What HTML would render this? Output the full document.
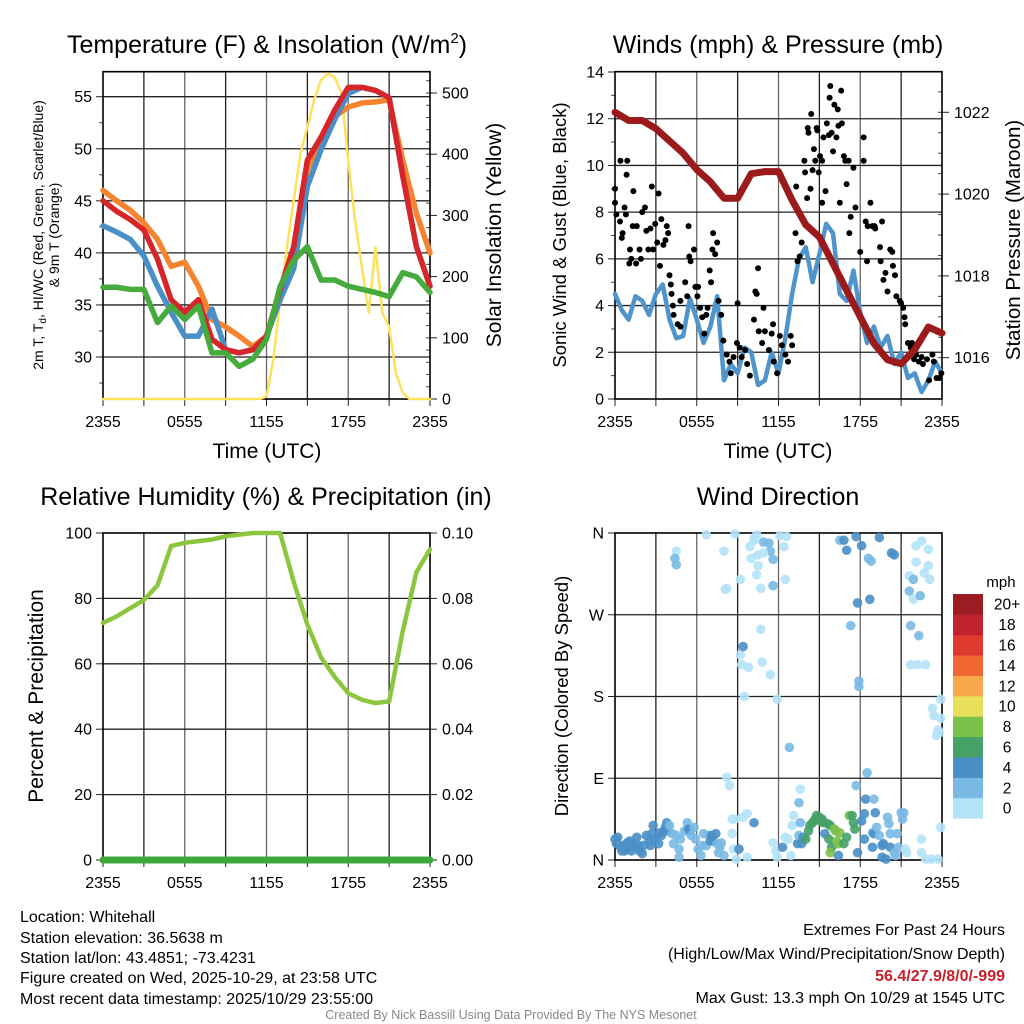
<!DOCTYPE html>
<html><head><meta charset="utf-8"><title>Whitehall Meteogram</title>
<style>
html,body{margin:0;padding:0;background:#fff;}
svg{display:block;font-family:"Liberation Sans",Arial,sans-serif;}
</style></head>
<body>
<svg id="fig" width="1024" height="1024" viewBox="0 0 1024 1024">
<rect width="1024" height="1024" fill="#fff"/>
<g id="layer"></g>
<text x="267" y="53" font-size="25" text-anchor="middle">Temperature (F) &amp; Insolation (W/m<tspan font-size="15" dy="-10">2</tspan><tspan dy="10">)</tspan></text>
<text x="778" y="53" font-size="25" text-anchor="middle">Winds (mph) &amp; Pressure (mb)</text>
<text x="266" y="505" font-size="25" text-anchor="middle">Relative Humidity (%) &amp; Precipitation (in)</text>
<text x="778" y="505" font-size="25" text-anchor="middle">Wind Direction</text>

<text x="267" y="458" font-size="21" text-anchor="middle">Time (UTC)</text>
<text x="778" y="458" font-size="21" text-anchor="middle">Time (UTC)</text>

<text transform="translate(43,235) rotate(-90)" font-size="14" text-anchor="middle">2m T, T<tspan font-size="10" dy="3">d</tspan><tspan dy="-3">, HI/WC (Red, Green, Scarlet/Blue)</tspan></text>
<text transform="translate(59,235) rotate(-90)" font-size="14" text-anchor="middle">&amp; 9m T (Orange)</text>
<text transform="translate(501,235) rotate(-90)" font-size="21" text-anchor="middle">Solar Insolation (Yellow)</text>
<text transform="translate(566,235) rotate(-90)" font-size="18.5" text-anchor="middle">Sonic Wind &amp; Gust (Blue, Black)</text>
<text transform="translate(1020,240) rotate(-90)" font-size="20.5" text-anchor="middle">Station Pressure (Maroon)</text>
<text transform="translate(43,696) rotate(-90)" font-size="21" text-anchor="middle">Percent &amp; Precipitation</text>
<text transform="translate(568,696) rotate(-90)" font-size="18.5" text-anchor="middle">Direction (Colored By Speed)</text>

<g font-size="16">
<text x="20" y="922">Location: Whitehall</text>
<text x="20" y="943">Station elevation: 36.5638 m</text>
<text x="20" y="963">Station lat/lon: 43.4851; -73.4231</text>
<text x="20" y="983">Figure created on Wed, 2025-10-29, at 23:58 UTC</text>
<text x="20" y="1004">Most recent data timestamp: 2025/10/29 23:55:00</text>
</g>
<g font-size="16" text-anchor="end">
<text x="1005" y="935">Extremes For Past 24 Hours</text>
<text x="1005" y="959">(High/Low/Max Wind/Precipitation/Snow Depth)</text>
<text x="1005" y="981" fill="#c8202a" font-weight="bold">56.4/27.9/8/0/-999</text>
<text x="1005" y="1003">Max Gust: 13.3 mph On 10/29 at 1545 UTC</text>
</g>
<text x="511" y="1019" font-size="12.5" fill="#888" text-anchor="middle">Created By Nick Bassill Using Data Provided By The NYS Mesonet</text>
</svg>
<script>
// ---------- data ----------
const xTickLabels = ["2355","0555","1155","1755","2355"];
const tempRed    = [45.0,44.0,43.2,42.2,39.4,35.5,34.3,35.5,31.7,30.7,30.4,30.7,32.0,36.5,40.6,48.9,51.1,53.7,55.9,55.9,55.6,54.9,47.4,40.6,36.8];
const tempBlue   = [42.6,42.0,41.3,39.7,36.8,34.3,32.0,32.0,34.6,30.7,30.4,30.7,32.0,35.5,38.5,46.4,49.9,52.8,55.3,55.9,55.6,54.9,47.4,40.6,36.8];
const tempOrange = [46.0,45.0,44.1,42.9,41.3,38.7,39.1,36.8,33.6,32.9,32.0,31.0,32.0,35.5,40.6,48.0,50.5,53.1,54.0,54.4,54.5,54.7,48.9,43.8,40.0];
const dewGreen   = [36.7,36.7,36.5,36.5,33.3,34.9,33.6,34.9,30.4,30.4,29.1,29.8,31.7,36.8,39.3,40.6,37.4,37.4,36.8,36.5,36.2,35.8,38.1,37.7,36.2];
const solarHalfHourly = [0,0,0,0,0,0,0,0,0,0,0,0,0,0,0,0,0,0,0,0,0,0,0,0,4,64,162,248,325,402,444,489,521,532,526,500,390,292,216,141,248,141,118,42,10,0,0,0,0];
const tempTicks = [30,35,40,45,50,55];
const solarTicks = [0,100,200,300,400,500];

const windHalfHourly = [4.5,3.8,3.4,4.4,4.2,3.6,4.5,4.9,3.4,2.6,2.7,4.3,3.4,2.4,3.1,4.4,0.8,1.5,1.1,2.2,2.0,0.6,0.8,2.0,1.1,2.6,4.5,6.0,6.5,5.0,6.2,7.5,7.1,4.5,4.2,5.5,3.7,2.4,3.1,2.2,2.7,1.5,2.0,0.9,1.1,0.3,0.8,1.6,1.1];
const pressureHourly = [1022.0,1021.8,1021.8,1021.6,1021.3,1021.0,1020.6,1020.3,1019.9,1019.9,1020.5,1020.55,1020.55,1019.85,1019.25,1018.95,1018.3,1017.65,1017.0,1016.35,1015.95,1015.85,1016.2,1016.75,1016.6];
const gustTimes  = [-0.1,0,0.4,0.9,0.85,0.1,0.37,0.56,0.5,0.7,0.8,1.1,1.2,1.05,1.35,1.3,1.6,1.55,1.8,1.9,2.0,2.2,2.3,2.6,2.45,2.7,2.8,2.95,3.1,3.2,3.3,3.4,3.55,3.7,3.8,3.9,4.0,4.1,4.15,4.25,4.3,4.6,4.8,4.8,5.15,5.3,5.4,5.45,5.55,5.8,5.9,6.05,6.1,6.25,6.4,6.55,6.7,6.8,6.95,7.05,7.15,7.2,7.35,7.5,7.6,7.8,7.95,8.2,8.4,8.5,8.7,8.95,9.0,9.15,9.3,9.55,9.7,9.9,10.2,10.3,10.4,10.5,10.55,10.8,10.9,11.0,11.3,11.5,11.6,11.65,11.9,12.1,12.25,12.5,12.7,12.9,13.0,13.25,13.3,13.4,13.55,13.7,13.9,13.95,14.1,14.15,14.2,14.35,14.4,14.5,14.6,14.7,14.8,14.85,14.95,15.05,15.2,15.2,15.3,15.45,15.55,15.7,15.75,15.8,15.9,16.0,16.1,16.25,16.35,16.4,16.5,16.6,16.65,16.8,16.9,17.0,17.15,17.2,17.3,17.5,17.65,18.0,18.25,18.25,18.4,18.5,18.55,18.75,18.9,19.05,19.1,19.45,19.6,19.5,19.7,19.85,20.0,20.2,20.35,20.4,20.55,20.65,20.9,21.0,21.15,21.25,21.3,21.5,21.7,21.8,21.95,22.1,22.3,22.5,22.6,22.9,23.05,23.3,23.4,23.6,23.8,23.95];
const gustSpeeds = [9.0,8.4,10.2,10.2,9.6,7.9,7.6,7.1,6.9,8.2,7.9,6.4,6.0,5.8,8.9,7.4,7.4,5.8,6.4,6.0,8.0,8.2,7.2,7.3,6.4,9.1,6.4,7.5,6.7,8.8,5.7,7.7,6.6,6.8,7.4,7.1,5.3,4.9,4.5,4.0,3.6,3.2,3.1,4.2,5.0,4.4,7.4,6.1,5.9,6.4,4.8,4.4,4.8,3.9,3.5,2.8,3.6,3.9,5.5,5.0,6.4,7.1,6.2,6.7,4.2,3.6,2.5,1.9,1.6,1.1,1.8,2.4,4.1,2.2,1.8,2.1,1.5,1.0,3.4,4.6,4.5,5.6,2.9,2.4,3.9,2.9,2.1,2.8,3.2,1.6,1.1,2.7,2.3,1.9,1.6,2.7,2.3,7.1,9.1,5.9,6.1,6.7,10.2,9.7,8.6,11.6,11.4,9.0,12.2,9.8,10.7,10.2,11.6,11.5,9.7,10.4,10.2,8.4,11.2,8.9,11.8,11.3,12.9,13.4,11.4,10.6,12.6,11.2,12.4,11.7,8.4,13.2,11.8,10.4,10.2,9.2,10.2,7.1,7.8,9.9,8.2,6.3,11.2,10.2,7.6,5.9,7.4,8.4,7.4,7.4,7.3,6.5,7.6,5.9,5.1,5.4,4.6,6.4,6.3,5.7,5.3,4.4,4.2,4.1,3.9,3.5,3.2,2.4,2.2,2.4,1.7,1.9,1.6,1.8,1.5,1.7,0.8,1.9,1.6,0.9,0.9,1.1];
const windTicks = [0,2,4,6,8,10,12,14];
const pressureTicks = [1016,1018,1020,1022];

const rhHourly = [72.5,74.5,77,79.5,84,96,97,97.5,98,99,99.5,100,100,100,85,72,62,56,51,49,48,48.5,70,88,95];
const precipHourly = [0,0,0,0,0,0,0,0,0,0,0,0,0,0,0,0,0,0,0,0,0,0,0,0,0];
const rhTicks = [0,20,40,60,80,100];
const precipTickLabels = ["0.00","0.02","0.04","0.06","0.08","0.10"];

const dirTimes = [0.0,0.1,0.2,0.4,0.5,0.6,0.7,0.9,1.0,1.1,1.2,1.3,1.5,1.6,1.7,1.8,2.0,2.1,2.3,2.5,2.6,2.7,2.8,2.9,3.2,3.3,3.4,3.6,3.7,3.8,3.9,4.0,4.2,4.3,4.5,4.7,4.8,4.7,5.1,5.3,5.4,5.5,5.6,5.8,5.9,6.1,6.3,6.4,6.5,6.7,6.9,7.0,7.1,7.2,7.4,7.5,7.6,7.7,7.8,8.0,8.2,8.4,8.6,8.6,8.7,8.8,8.9,9.1,9.4,9.7,9.7,10.2,11.6,11.8,12.3,11.9,12.5,12.7,12.9,13.0,13.1,13.4,13.5,13.6,13.7,13.8,14.0,14.2,14.3,14.5,14.6,14.7,14.8,15.0,15.1,15.2,15.3,15.4,15.6,15.7,15.8,15.9,15.8,16.1,16.2,16.3,16.4,16.5,16.8,17.0,17.2,17.4,17.5,17.6,17.8,16.4,18.1,18.3,18.3,18.4,18.5,17.7,19.0,19.1,18.9,18.9,19.0,19.2,19.4,19.6,19.7,19.6,19.9,20.0,20.1,20.2,20.2,20.5,20.6,20.7,20.8,21.0,21.1,21.2,21.3,21.4,22.5,22.5,22.8,23.2,23.7,23.9,13.6,13.5,
12.8,11.9,9.5,9.2,9.4,9.3,9.8,10.8,11.4,10.7,17.9,17.9,17.3,21.7,22.3,21.7,22.2,22.8,23.3,23.4,23.9,23.9,23.6,23.7,23.8,
6.7,8.8,8.0,8.1,8.2,9.2,10.2,10.4,10.2,9.9,10.0,10.4,10.7,10.5,10.5,10.9,11.3,11.4,10.9,11.6,11.6,12.1,12.6,12.4,12.5,4.5,4.4,4.5,16.5,16.8,17.0,17.7,18.1,18.6,18.8,19.4,20.3,20.5,18.7,17.8,21.6,21.9,21.6,21.9,22.4,22.1,22.5,23.0,22.1,23.0,22.7,23.1];
const dirDegrees = [23,18,25,14,10,16,10,19,14,21,10,16,14,25,16,10,7,16,27,21,16,29,38,23,18,30,27,32,36,41,32,38,29,18,27,12,23,3,32,41,34,32,27,36,23,12,5,16,29,16,27,21,27,21,29,18,8,14,19,5,91,82,45,29,12,45,1,12,47,51,3,41,19,10,14,3,25,23,5,38,49,18,27,41,18,25,23,32,38,41,43,45,49,47,43,45,41,29,40,23,38,14,8,34,32,21,18,30,18,25,49,49,41,34,8,5,43,51,23,67,96,82,67,52,14,30,29,36,27,16,18,3,1,47,40,29,14,8,5,29,14,52,45,52,12,8,23,8,1,1,1,36,78,63,
124,177,180,226,235,215,212,218,204,254,197,191,258,258,247,215,215,215,167,159,156,177,137,143,140,
358,359,340,298,299,309,352,358,354,345,332,314,299,336,324,350,349,340,338,331,302,357,356,345,309,340,332,325,352,352,341,356,346,332,329,355,338,336,287,283,313,309,296,287,291,346,351,342,328,324,316,309];
const dirSpeeds = [5,5,5,5,5,5,5,5,5,5,5,5,5,5,5,5,5,5,5,5,5,5,5,5,5,5,5,5,5,5,5,3,3,3,3,3,3,3,3,3,5,5,3,3,3,3,3,3,3,3,3,5,5,5,5,3,3,3,3,3,1,1,1,1,1,1,1,5,1,1,1,5,1,1,5,1,1,1,1,1,1,5,3,3,5,5,7,7,7,7,7,7,7,7,7,7,7,5,7,7,7,7,9,9,9,9,9,9,7,7,9,7,7,7,5,5,5,5,5,5,3,3,3,5,5,3,5,3,3,5,5,5,5,3,3,3,5,3,3,3,3,3,3,3,1,1,1,1,1,1,1,1,1,3,3,
1,1,1,5,1,1,1,1,1,3,3,3,3,3,1,1,1,1,1,1,1,1,1,1,1,
1,1,1,1,1,1,1,1,1,1,1,1,1,1,3,3,3,1,3,3,1,1,1,1,1,3,3,3,5,5,5,5,3,3,5,5,5,5,5,1,3,3,1,3,1,1,1,1,1,1,1,1];
const dirTickLabels = ["N","E","S","W","N"];
const speedBinLabels = ["0","2","4","6","8","10","12","14","16","18","20+"];
const speedBinColors = ["#b4e3f8","#79b9e4","#4a8fc6","#45a168","#7bc14a","#e8df5a","#f8a84a","#ef6630","#de3a2f","#c1222b","#9c1c21"];

// ---------- helpers ----------
const NS = "http://www.w3.org/2000/svg";
const layer = document.getElementById("layer");
function mk(tag, attrs, parent){
  const e = document.createElementNS(NS, tag);
  for (const k in attrs) e.setAttribute(k, attrs[k]);
  (parent || layer).appendChild(e);
  return e;
}
function panel(x0,x1,y0,y1){ return {x0,x1,y0,y1, xs:t=>x0+(x1-x0)*t/24}; }
function lin(d0,d1,p0,p1){ return v=>p0+(v-d0)*(p1-p0)/(d1-d0); }

const P1 = panel(103,430,71.7,399);
const P2 = panel(615,942,71.7,399);
const P3 = panel(103,430,533,860);
const P4 = panel(615,942,533,860);

function frame(P, name){
  const g = mk("g", {});
  
  
  for (let i=1;i<8;i++){
    const x = P.x0 + (P.x1-P.x0)*i/8;
    mk("line",{x1:x,x2:x,y1:P.y0,y2:P.y1,stroke:i%2?"#222":"#666","stroke-width":1.3},g);
    mk("line",{x1:x,x2:x,y1:P.y1,y2:P.y1+7,stroke:"#222","stroke-width":1},g);
  }
  mk("line",{x1:P.x0,x2:P.x0,y1:P.y1,y2:P.y1+7,stroke:"#222","stroke-width":1},g);
  mk("line",{x1:P.x1,x2:P.x1,y1:P.y1,y2:P.y1+7,stroke:"#222","stroke-width":1},g);
  for (let i=0;i<xTickLabels.length;i++){
    const x = P.x0 + (P.x1-P.x0)*i/4;
    const t = mk("text",{x:x,y:P.y1+28,"font-size":16,"text-anchor":"middle"},g);
    t.textContent = xTickLabels[i];
    
    
  }
  return g;
}
function hgrid(P, ys, g){
  ys.forEach(y=>mk("line",{x1:P.x0,x2:P.x1,y1:y,y2:y,stroke:"#222","stroke-width":1.3},g));
}
function leftTicks(P, vals, sc, labels, g, name){
  vals.forEach((v,i)=>{
    const y = sc(v);
    mk("line",{x1:P.x0-7,x2:P.x0,y1:y,y2:y,stroke:"#222","stroke-width":1},g);
    const t = mk("text",{x:P.x0-11,y:y+5.5,"font-size":16,"text-anchor":"end"},g);
    t.textContent = labels ? labels[i] : v;
    
    
  });
}
function rightTicks(P, vals, sc, labels, g, name){
  vals.forEach((v,i)=>{
    const y = sc(v);
    mk("line",{x1:P.x1,x2:P.x1+7,y1:y,y2:y,stroke:"#222","stroke-width":1},g);
    const t = mk("text",{x:P.x1+12,y:y+5.5,"font-size":16,"text-anchor":"start"},g);
    t.textContent = labels ? labels[i] : v;
    
    
  });
}
function border(P, g){
  mk("rect",{x:P.x0,y:P.y0,width:P.x1-P.x0,height:P.y1-P.y0,fill:"none",stroke:"#000","stroke-width":1.6},g);
}
function line(P, vals, step, sy, color, w, name){
  let d = "";
  vals.forEach((v,i)=>{ d += (i?"L":"M") + P.xs(i*step).toFixed(2) + "," + sy(v).toFixed(2); });
  const p = mk("path",{d:d,fill:"none",stroke:color,"stroke-width":w,"stroke-linejoin":"round","stroke-linecap":"round"});
  
  
  return p;
}

// ---------- panel 1 ----------
{
  const yT = lin(55,30,96.7,357);
  const yS = lin(0,500,399,93);
  const g = frame(P1,"temperature");
  hgrid(P1, tempTicks.map(yT), g);
  leftTicks(P1, tempTicks, yT, null, g, "temperature");
  for (let v=27.5; v<57; v+=5){ const y=yT(v); mk("line",{x1:P1.x0-4,x2:P1.x0,y1:y,y2:y,stroke:"#444","stroke-width":1},g); }
  rightTicks(P1, solarTicks, yS, null, g, "solar");
  for (let v=20; v<540; v+=20){ const y=yS(v); mk("line",{x1:P1.x1-4,x2:P1.x1,y1:y,y2:y,stroke:"#444","stroke-width":1},g); }
  line(P1, solarHalfHourly, 0.5, yS, "#fde25a", 2.5, "solar-insolation-line");
  line(P1, tempOrange, 1, yT, "#f5832f", 5.5, "temperature-9m-line");
  line(P1, tempBlue, 1, yT, "#4a90c8", 5.5, "wind-chill-line");
  line(P1, tempRed, 1, yT, "#d7262b", 5.5, "temperature-2m-line");
  line(P1, dewGreen, 1, yT, "#46ab3d", 5.5, "dewpoint-line");
  border(P1, g);
}
// ---------- panel 2 ----------
{
  const yW = lin(0,14,399,72);
  const yP = lin(1022,1016,112.3,357.7);
  const g = frame(P2,"winds");
  hgrid(P2, windTicks.slice(1,7).map(yW), g);
  leftTicks(P2, windTicks, yW, null, g, "wind");
  for (let v=1; v<14; v+=2){ const y=yW(v); mk("line",{x1:P2.x0-4,x2:P2.x0,y1:y,y2:y,stroke:"#444","stroke-width":1},g); }
  rightTicks(P2, pressureTicks, yP, null, g, "pressure");
  for (let v=1015.5; v<1023; v+=0.5){ const y=yP(v); if(y>P2.y0&&y<P2.y1) mk("line",{x1:P2.x1-4,x2:P2.x1,y1:y,y2:y,stroke:"#444","stroke-width":1},g); }
  line(P2, windHalfHourly, 0.5, yW, "#4f95cc", 4.5, "sonic-wind-line");
  const gg = mk("g",{});
  
  
  gustTimes.forEach((t,i)=>{
    const c = mk("circle",{cx:P2.xs(Math.max(0,t)),cy:yW(gustSpeeds[i]),r:3,fill:"#000"},gg);
    
    
  });
  line(P2, pressureHourly, 1, yP, "#9b1b1d", 7, "station-pressure-line");
  border(P2, g);
}
// ---------- panel 3 ----------
{
  const yR = lin(0,100,860,533);
  const g = frame(P3,"humidity");
  hgrid(P3, rhTicks.slice(1,5).map(yR), g);
  leftTicks(P3, rhTicks, yR, null, g, "humidity");
  rightTicks(P3, rhTicks, yR, precipTickLabels, g, "precip");
  line(P3, rhHourly, 1, yR, "#8cc63f", 4.5, "relative-humidity-line");
  line(P3, precipHourly, 1, v=>yR(v*1000), "#3fa83a", 7, "precipitation-line");
  border(P3, g);
}
// ---------- panel 4 ----------
{
  const yD = lin(0,360,860,533);
  const g = frame(P4,"direction");
  hgrid(P4, [90,180,270].map(yD), g);
  leftTicks(P4, [0,90,180,270,360], yD, dirTickLabels, g, "direction");
  const dg = mk("g",{});
  
  
  dirTimes.forEach((t,i)=>{
    const bin = Math.min(10, Math.floor(dirSpeeds[i]/2));
    const c = mk("circle",{cx:P4.xs(t),cy:yD(dirDegrees[i]),r:4.8,fill:speedBinColors[bin],"fill-opacity":0.9},dg);
    
    
  });
  border(P4, g);
  // colorbar
  const cb = mk("g",{});
  
  
  const h = 20.4, top = 594;
  const mph = mk("text",{x:1001,y:587,"font-size":15,"text-anchor":"middle"},cb);
  mph.textContent = "mph";
  
  
  speedBinLabels.forEach((lab,i)=>{
    const k = speedBinLabels.length-1-i;
    const y = top + k*h;
    const r = mk("rect",{x:953,y:y,width:30,height:h+0.3,fill:speedBinColors[i]},cb);
    
    
    const t = mk("text",{x:1007,y:y+h/2+5.5,"font-size":15.5,"text-anchor":"middle"},cb);
    t.textContent = lab;
    
    
  });
}
</script>
</body></html>
